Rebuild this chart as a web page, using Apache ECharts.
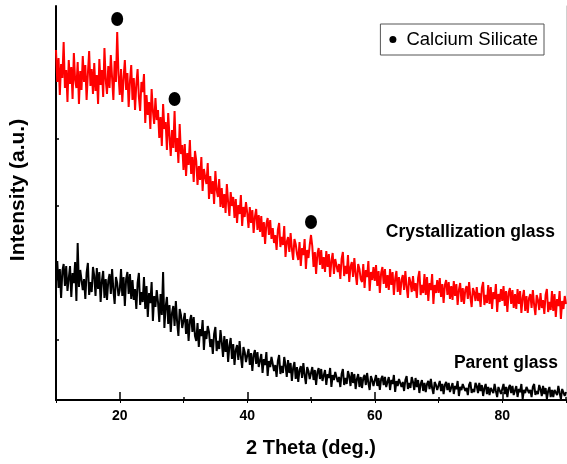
<!DOCTYPE html>
<html>
<head>
    <meta charset="utf-8">
    <title>XRD</title>
    <script src="https://cdn.jsdelivr.net/npm/echarts@6/dist/echarts.min.js"></script>
    <style>
        html, body { margin: 0; padding: 0; background: #fff; }
    </style>
</head>
<body>
    <div id="main" style="width: 567px;height:464px;"></div>
    <script type="text/javascript">
        // scan setup: 2 theta from 10 to 90 deg, 0.2 deg step
        var startAngle = 10;
        var stepAngle = 0.2;

        // crystallized sample (red), intensity in arbitrary units, one row = 2 deg
        var crystalGlass = [
            350, 318, 342, 305, 336, 322, 358, 312, 330, 298,
            340, 316, 333, 301, 347, 320, 312, 338, 296, 329,
            310, 344, 318, 335, 300, 326, 349, 314, 331, 306,
            337, 309, 325, 296, 341, 315, 330, 303, 352, 320,
            306, 334, 312, 345, 322, 300, 339, 318, 368, 326,
            305, 331, 298, 322, 340, 310, 327, 293, 319, 335,
            300, 322, 290, 316, 331, 303, 289, 318, 308, 326,
            277, 305, 285, 298, 271, 311, 289, 276, 302, 280,
            290, 262, 283, 254, 296, 271, 278, 250, 287, 264,
            244, 270, 252, 289, 248, 262, 237, 276, 246, 255,
            230, 256, 224, 247, 235, 260, 226, 243, 218, 249,
            239, 215, 234, 220, 243, 209, 231, 223, 216, 237,
            201, 224, 206, 219, 196, 229, 210, 203, 221, 193,
            212, 192, 206, 187, 216, 198, 184, 208, 194, 203,
            182, 201, 177, 195, 186, 205, 174, 193, 183, 198,
            187, 172, 193, 177, 190, 167, 183, 191, 170, 185,
            168, 184, 163, 178, 156, 176, 182, 165, 180, 161,
            172, 157, 165, 150, 170, 177, 153, 163, 155, 174,
            143, 158, 163, 148, 167, 151, 140, 161, 156, 146,
            140, 158, 134, 152, 145, 161, 131, 150, 142, 155,
            165, 154, 133, 148, 126, 146, 152, 135, 150, 131,
            143, 128, 149, 133, 146, 123, 139, 147, 126, 141,
            143, 128, 136, 121, 141, 148, 124, 134, 126, 145,
            118, 133, 138, 123, 142, 126, 115, 136, 131, 121,
            118, 136, 112, 130, 123, 139, 109, 128, 120, 133,
            119, 135, 114, 129, 107, 127, 133, 116, 131, 112,
            125, 110, 131, 115, 128, 105, 121, 129, 108, 123,
            105, 120, 125, 110, 129, 113, 102, 123, 118, 108,
            124, 109, 117, 102, 122, 129, 105, 115, 107, 126,
            105, 123, 99, 117, 110, 126, 96, 115, 107, 120,
            107, 122, 103, 116, 97, 115, 120, 105, 118, 101,
            114, 100, 119, 104, 116, 95, 110, 117, 98, 112,
            96, 110, 114, 101, 118, 103, 93, 112, 108, 99,
            113, 99, 107, 93, 112, 118, 95, 105, 97, 115,
            96, 113, 91, 108, 101, 116, 88, 106, 98, 111,
            99, 114, 94, 109, 88, 107, 112, 96, 110, 92,
            106, 91, 111, 96, 109, 87, 102, 110, 89, 104,
            87, 102, 106, 92, 110, 95, 85, 105, 100, 90,
            107, 92, 100, 86, 105, 111, 88, 98, 90, 109,
            89, 106, 83, 101, 94, 109, 81, 99, 91, 104,
            96
        ];

        // parent glass (black)
        var parentGlass = [
            118, 139, 112, 131, 102, 129, 136, 114, 134, 109,
            111, 134, 103, 127, 117, 138, 99, 157, 113, 130,
            130, 110, 121, 101, 127, 137, 105, 118, 108, 133,
            124, 104, 132, 111, 128, 98, 119, 129, 102, 121,
            100, 119, 126, 106, 131, 110, 96, 123, 117, 104,
            110, 131, 104, 123, 94, 121, 128, 106, 126, 101,
            120, 100, 111, 91, 117, 127, 95, 108, 98, 123,
            91, 114, 83, 107, 97, 118, 79, 104, 93, 110,
            98, 78, 106, 85, 128, 72, 93, 103, 76, 95,
            68, 87, 94, 74, 99, 78, 64, 91, 85, 72,
            71, 87, 66, 81, 59, 79, 85, 68, 83, 64,
            59, 77, 53, 71, 64, 80, 50, 69, 61, 74,
            68, 53, 61, 46, 66, 73, 49, 59, 51, 70,
            58, 43, 64, 48, 61, 38, 54, 62, 41, 56,
            35, 50, 55, 40, 59, 43, 32, 53, 48, 38,
            39, 51, 35, 47, 29, 45, 50, 36, 48, 33,
            31, 46, 27, 41, 35, 48, 24, 39, 33, 43,
            41, 29, 35, 23, 39, 45, 26, 34, 27, 43,
            35, 23, 40, 27, 37, 19, 32, 38, 21, 33,
            18, 30, 34, 22, 37, 25, 16, 33, 29, 21,
            23, 33, 20, 30, 15, 28, 32, 21, 31, 19,
            18, 30, 15, 26, 22, 32, 13, 25, 20, 28,
            27, 18, 23, 13, 26, 31, 15, 22, 16, 29,
            24, 14, 28, 17, 26, 11, 21, 26, 13, 23,
            12, 22, 25, 15, 27, 17, 10, 24, 20, 14,
            16, 25, 14, 22, 10, 21, 24, 15, 23, 13,
            13, 23, 10, 20, 16, 25, 8, 19, 14, 21,
            21, 13, 18, 9, 20, 24, 11, 17, 12, 23,
            18, 10, 22, 13, 20, 7, 16, 20, 9, 17,
            8, 16, 19, 11, 21, 12, 6, 18, 15, 10,
            11, 19, 9, 16, 6, 15, 18, 10, 17, 8,
            9, 17, 6, 14, 11, 19, 4, 13, 10, 16,
            16, 9, 12, 5, 15, 18, 7, 11, 8, 17,
            14, 7, 17, 9, 15, 4, 12, 16, 6, 13,
            5, 12, 14, 7, 16, 9, 3, 13, 11, 6,
            8, 16, 6, 13, 3, 12, 15, 7, 14, 5,
            6, 14, 3, 11, 8, 16, 1, 10, 7, 13,
            14, 7, 10, 3, 13, 16, 5, 9, 6, 15,
            11, 4, 14, 6, 12, 1, 9, 13, 3, 10,
            3, 10, 12, 5, 14, 7, 1, 11, 9, 4,
            8
        ];

        // calcium silicate peak markers [2theta, intensity]
        var peakAngles = [19.6, 28.6, 50.0];
        var peakMarks = [381, 301, 178];

        var xTicks = [20, 40, 60, 80];
        var yTicks = [60, 127, 194, 261, 328];

        var twoTheta = crystalGlass.map(function (v, i) {
            return +(startAngle + i * stepAngle).toFixed(1);
        });
        function pairs(arr) {
            return arr.map(function (v, i) { return [twoTheta[i], v]; });
        }

        var font = '"Liberation Sans", Arial, sans-serif';
        var myChart = echarts.init(document.getElementById('main'));

        var option = {
            animation: false,
            backgroundColor: '#fff',
            grid: { left: 55, right: 1, top: 6, bottom: 64 },
            legend: {
                data: ['Calcium Silicate'],
                right: 23,
                top: 24,
                icon: 'circle',
                itemWidth: 7,
                itemHeight: 7,
                padding: [6, 6, 6, 9],
                borderColor: '#555',
                borderWidth: 1,
                textStyle: { fontFamily: font, fontSize: 18.5, color: '#000', padding: [0, 0, 0, 5] }
            },
            xAxis: [{
                type: 'value',
                min: 10,
                max: 90,
                interval: 10,
                name: '2 Theta (deg.)',
                nameLocation: 'middle',
                nameGap: 38,
                nameTextStyle: { fontFamily: font, fontSize: 20, fontWeight: 'bold', color: '#000' },
                axisLine: { onZero: false, lineStyle: { color: '#000', width: 2 } },
                axisTick: { inside: true, length: 8, lineStyle: { color: '#000', width: 1.5 }, customValues: xTicks },
                axisLabel: { customValues: xTicks, margin: 9, fontFamily: font, fontSize: 14, fontWeight: 'bold', color: '#000' },
                splitLine: { show: false }
            }, {
                type: 'value',
                position: 'bottom',
                min: 10,
                max: 90,
                interval: 10,
                axisLine: { show: false },
                axisTick: { inside: true, length: 3, lineStyle: { color: '#000', width: 1.5 } },
                axisLabel: { show: false },
                splitLine: { show: false }
            }, {
                type: 'value',
                position: 'top',
                min: 10,
                max: 90,
                interval: 10,
                axisLine: { lineStyle: { color: '#000', width: 1.5 } },
                axisTick: { inside: true, length: 3, lineStyle: { color: '#000', width: 1 } },
                axisLabel: { show: false },
                splitLine: { show: false }
            }],
            yAxis: [{
                type: 'value',
                min: 0,
                max: 394,
                name: 'Intensity (a.u.)',
                nameLocation: 'middle',
                nameGap: 27,
                nameTextStyle: { fontFamily: font, fontSize: 21, fontWeight: 'bold', color: '#000', padding: [0, 0, 0, 26] },
                axisLine: { onZero: false, lineStyle: { color: '#000', width: 2 } },
                axisTick: { inside: true, length: 3, lineStyle: { color: '#000', width: 1.5 }, customValues: yTicks },
                axisLabel: { show: false },
                splitLine: { show: false }
            }, {
                type: 'value',
                position: 'right',
                min: 0,
                max: 394,
                axisLine: { show: true, lineStyle: { color: '#d0d0d0', width: 1 } },
                axisTick: { show: false },
                axisLabel: { show: false },
                splitLine: { show: false }
            }],
            series: [{
                name: 'Parent glass',
                type: 'line',
                showSymbol: false,
                symbol: 'none',
                data: pairs(parentGlass),
                lineStyle: { color: '#000', width: 2 },
                z: 2
            }, {
                name: 'Crystallization glass',
                type: 'line',
                showSymbol: false,
                symbol: 'none',
                data: pairs(crystalGlass),
                lineStyle: { color: '#ff0000', width: 2 },
                z: 3
            }, {
                name: 'Calcium Silicate',
                type: 'scatter',
                symbol: 'circle',
                symbolSize: [12, 14],
                itemStyle: { color: '#000', opacity: 1 },
                data: peakAngles.map(function (a, i) { return [a, peakMarks[i]]; }),
                z: 4
            }],
            graphic: [{
                type: 'text',
                right: 12,
                top: 223,
                style: { text: 'Crystallization glass', font: 'bold 17.5px ' + font, fill: '#000' }
            }, {
                type: 'text',
                right: 9,
                top: 354,
                style: { text: 'Parent glass', font: 'bold 17.5px ' + font, fill: '#000' }
            }]
        };

        myChart.setOption(option);
    </script>
</body>
</html>
